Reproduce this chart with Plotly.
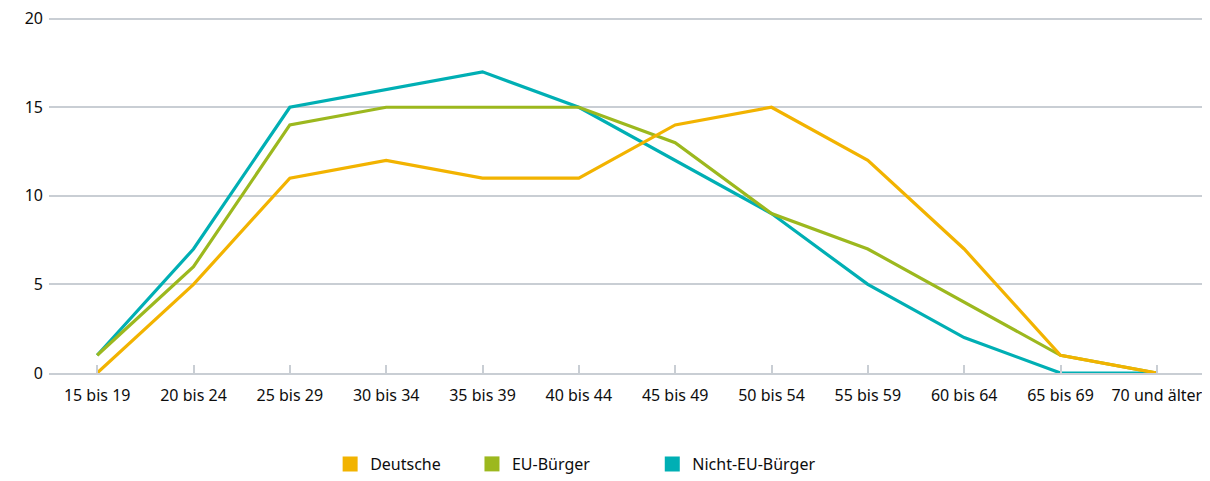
import plotly.graph_objects as go

categories = ["15 bis 19", "20 bis 24", "25 bis 29", "30 bis 34", "35 bis 39", "40 bis 44",
              "45 bis 49", "50 bis 54", "55 bis 59", "60 bis 64", "65 bis 69", "70 und älter"]
deutsche = [0, 5, 11, 12, 11, 11, 14, 15, 12, 7, 1, 0]
eu_buerger = [1, 6, 14, 15, 15, 15, 13, 9, 7, 4, 1, 0]
nicht_eu = [1, 7, 15, 16, 17, 15, 12, 9, 5, 2, 0, 0]
y_ticks = [0, 5, 10, 15, 20]

series = [
    ("Deutsche", deutsche, "#f2b300", "legend", 0.268),
    ("EU-Bürger", eu_buerger, "#9cb81e", "legend2", 0.386),
    ("Nicht-EU-Bürger", nicht_eu, "#00afb4", "legend3", 0.536),
]

fig = go.Figure()
# draw in reverse so Deutsche is on top
for name, vals, col, lg, lx in reversed(series):
    fig.add_trace(go.Scatter(x=categories, y=vals, mode="lines", name=name,
                             line=dict(color=col, width=3.2), showlegend=False))
for name, vals, col, lg, lx in series:
    fig.add_trace(go.Scatter(x=[None], y=[None], mode="markers", name=name, legend=lg,
                             marker=dict(symbol="square", size=15, color=col)))

grid = "#c9ced4"
legend_common = dict(orientation="h", xref="container", yref="container", xanchor="left",
                     y=0.0, yanchor="bottom", font=dict(size=16, color="#0d0d0d"),
                     bgcolor="rgba(0,0,0,0)")
layout_legends = {}
for name, vals, col, lg, lx in series:
    layout_legends[lg] = dict(legend_common, x=lx)

fig.update_layout(
    width=1202, height=473,
    margin=dict(l=41, r=5, t=8, b=108, autoexpand=False),
    paper_bgcolor="white", plot_bgcolor="white",
    font=dict(family="Noto Sans", size=16, color="#0d0d0d"),
    xaxis=dict(type="category", range=[-0.5, 11.5], showgrid=False,
               showline=True, linecolor=grid, linewidth=1.5,
               ticks="inside", ticklen=8, tickcolor=grid, tickwidth=1.5,
               ticklabelstandoff=7, zeroline=False, ticklabeloverflow="allow"),
    yaxis=dict(range=[0, 20.15], tickvals=y_ticks, showgrid=True, gridcolor=grid, gridwidth=1.5,
               zeroline=False, showline=False, ticks="", ticklabelstandoff=5,
               ticklabeloverflow="allow"),
    **layout_legends,
)
fig.write_html("out.html")
